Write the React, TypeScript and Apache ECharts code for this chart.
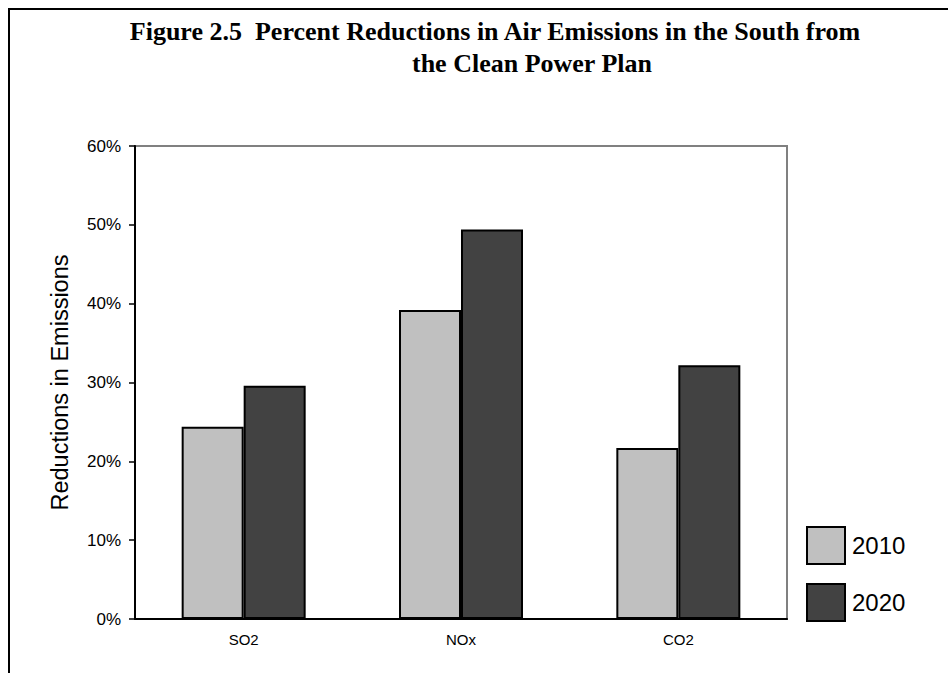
import React, { useEffect, useRef } from "react";
import * as echarts from "echarts";

const categories = ["SO2", "NOx", "CO2"];
const years = ["2010", "2020"];
const values2010 = [24.4, 39.2, 21.7];
const values2020 = [29.6, 49.4, 32.2];
const titleLine1 = "Figure 2.5  Percent Reductions in Air Emissions in the South from";
const titleLine2 = "the Clean Power Plan";
const yAxisTitle = "Reductions in Emissions";

export default function App() {
  const ref = useRef<HTMLDivElement>(null);
  useEffect(() => {
    document.body.style.margin = "0";
    const chart = echarts.init(ref.current!, null, { renderer: "svg" });
    const sans = "'Liberation Sans', Arial, Helvetica, sans-serif";
    const serifFont = "bold 26px 'Liberation Serif', 'Times New Roman', serif";
    chart.setOption({
      animation: false,
      backgroundColor: "#ffffff",
      graphic: [
        {
          type: "rect",
          shape: { x: 9, y: 9, width: 1000, height: 1000 },
          style: { fill: "none", stroke: "#000", lineWidth: 2 },
          z: 100,
        },
        {
          type: "text",
          x: 495,
          y: 31,
          style: {
            text: titleLine1,
            font: serifFont,
            fill: "#000",
            textAlign: "center",
            textVerticalAlign: "middle",
          },
        },
        {
          type: "text",
          x: 532,
          y: 63,
          style: {
            text: titleLine2,
            font: serifFont,
            fill: "#000",
            textAlign: "center",
            textVerticalAlign: "middle",
          },
        },
      ],
      legend: {
        orient: "vertical",
        left: 801,
        top: 521,
        itemWidth: 38,
        itemHeight: 37,
        itemGap: 18,
        icon: "rect",
        data: years,
        textStyle: { fontSize: 24, color: "#000", fontFamily: sans, padding: [0, 0, 0, 2] },
      },
      grid: {
        left: 135,
        right: 161,
        top: 146,
        bottom: 54,
        show: true,
        borderColor: "#808080",
        borderWidth: 2,
        backgroundColor: "transparent",
      },
      xAxis: {
        type: "category",
        data: categories,
        axisLine: { lineStyle: { color: "#000", width: 2 } },
        axisTick: { show: false },
        axisLabel: { color: "#000", fontSize: 15, fontFamily: sans, margin: 13 },
      },
      yAxis: {
        type: "value",
        min: 0,
        max: 60,
        interval: 10,
        name: yAxisTitle,
        nameLocation: "middle",
        nameRotate: 90,
        nameGap: 63,
        nameTextStyle: { fontSize: 23.5, color: "#000", fontFamily: sans },
        axisLine: { show: true, lineStyle: { color: "#000", width: 2 } },
        axisTick: { show: true, length: 6, lineStyle: { color: "#000", width: 1.5 } },
        splitLine: { show: false },
        axisLabel: {
          color: "#000",
          fontSize: 17,
          fontFamily: sans,
          margin: 14,
          formatter: (v: number) => v + "%",
        },
      },
      series: [
        {
          name: years[0],
          type: "bar",
          data: values2010,
          barWidth: 62,
          barGap: "0%",
          itemStyle: { color: "#c0c0c0", borderColor: "#000", borderWidth: 2 },
        },
        {
          name: years[1],
          type: "bar",
          data: values2020,
          barWidth: 62,
          barGap: "0%",
          itemStyle: { color: "#424242", borderColor: "#000", borderWidth: 2 },
        },
      ],
    });
    return () => chart.dispose();
  }, []);
  return <div ref={ref} style={{ width: 948, height: 673 }} />;
}
